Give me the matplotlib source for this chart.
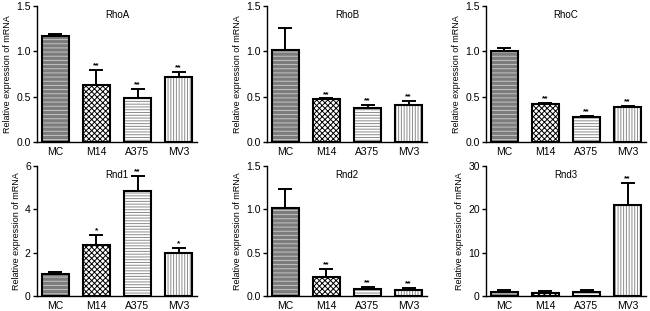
import matplotlib
matplotlib.use("Agg")
import matplotlib.pyplot as plt

plt.rcParams['font.family'] = ['Liberation Sans', 'DejaVu Sans']
plt.rcParams['hatch.linewidth'] = 0.7

cells = ["MC", "M14", "A375", "MV3"]

# mean values and upper error for each gene
rhoa = [1.17, 0.63, 0.49, 0.72]
rhoa_err = [0.02, 0.16, 0.09, 0.055]
rhob = [1.02, 0.47, 0.38, 0.405]
rhob_err = [0.24, 0.01, 0.025, 0.045]
rhoc = [1.005, 0.415, 0.275, 0.39]
rhoc_err = [0.035, 0.015, 0.015, 0.012]
rnd1 = [1.0, 2.34, 4.83, 1.98]
rnd1_err = [0.12, 0.46, 0.73, 0.23]
rnd2 = [1.015, 0.22, 0.085, 0.065]
rnd2_err = [0.225, 0.095, 0.02, 0.027]
rnd3 = [0.93, 0.77, 0.85, 21.1]
rnd3_err = [0.37, 0.31, 0.45, 4.9]

rhoa_sig = ["", "**", "**", "**"]
rhob_sig = ["", "**", "**", "**"]
rhoc_sig = ["", "**", "**", "**"]
rnd1_sig = ["", "*", "**", "*"]
rnd2_sig = ["", "**", "**", "**"]
rnd3_sig = ["", "", "", "**"]

panels = [
    ("RhoA", rhoa, rhoa_err, rhoa_sig, 1.5, [0.0, 0.5, 1.0, 1.5], ["0.0", "0.5", "1.0", "1.5"]),
    ("RhoB", rhob, rhob_err, rhob_sig, 1.5, [0.0, 0.5, 1.0, 1.5], ["0.0", "0.5", "1.0", "1.5"]),
    ("RhoC", rhoc, rhoc_err, rhoc_sig, 1.5, [0.0, 0.5, 1.0, 1.5], ["0.0", "0.5", "1.0", "1.5"]),
    ("Rnd1", rnd1, rnd1_err, rnd1_sig, 6, [0, 2, 4, 6], ["0", "2", "4", "6"]),
    ("Rnd2", rnd2, rnd2_err, rnd2_sig, 1.5, [0.0, 0.5, 1.0, 1.5], ["0.0", "0.5", "1.0", "1.5"]),
    ("Rnd3", rnd3, rnd3_err, rnd3_sig, 30, [0, 10, 20, 30], ["0", "10", "20", "30"]),
]

faces = ["#7c7c7c", "white", "white", "white"]
hatches = ["----", "xxxxxx", "------", "||||||"]
hatch_cols = ["#c4c4c4", "black", "#8c8c8c", "#8c8c8c"]

W, H = 650, 311
fig = plt.figure(figsize=(6.5, 3.11), dpi=100)

lefts = [37, 267, 486]
width_px = 160
rows = [(6, 142), (166, 296)]

for i, (name, vals, errs, sig, top, ticks, tlabels) in enumerate(panels):
    r, c = divmod(i, 3)
    y0, y1 = rows[r]
    ax = fig.add_axes([lefts[c] / W, 1 - y1 / H, width_px / W, (y1 - y0) / H])
    x = list(range(len(cells)))
    for j in x:
        ax.bar(j, vals[j], width=0.66, color=faces[j], edgecolor=hatch_cols[j],
               hatch=hatches[j], linewidth=0, zorder=2)
        ax.bar(j, vals[j], width=0.66, fill=False, edgecolor="black", linewidth=1.5, zorder=3)
        ax.errorbar(j, vals[j], yerr=[[0], [errs[j]]], fmt="none", ecolor="black",
                    elinewidth=1.4, capsize=5, capthick=1.4, zorder=4)
        if sig[j]:
            ax.text(j, vals[j] + errs[j] + top * 0.005, sig[j], ha="center", va="bottom",
                    fontsize=6, fontweight="bold")
    ax.set_xlim(-0.45, 3.45)
    ax.set_ylim(0, top)
    ax.set_yticks(ticks)
    ax.set_yticklabels(tlabels)
    ax.set_xticks(x)
    ax.set_xticklabels(cells)
    ax.spines["top"].set_visible(False)
    ax.spines["right"].set_visible(False)
    ax.spines["left"].set_linewidth(1.0)
    ax.spines["bottom"].set_linewidth(1.0)
    ax.tick_params(axis="y", labelsize=7.5, width=1.0, length=3, pad=1.5)
    ax.tick_params(axis="x", labelsize=7.5, length=0, pad=3.5)
    ax.set_ylabel("Relative expression of mRNA", fontsize=6.5, labelpad=3)
    ax.text(0.5, 0.97, name, transform=ax.transAxes, ha="center", va="top", fontsize=7)

fig.savefig("out.png", dpi=100)
